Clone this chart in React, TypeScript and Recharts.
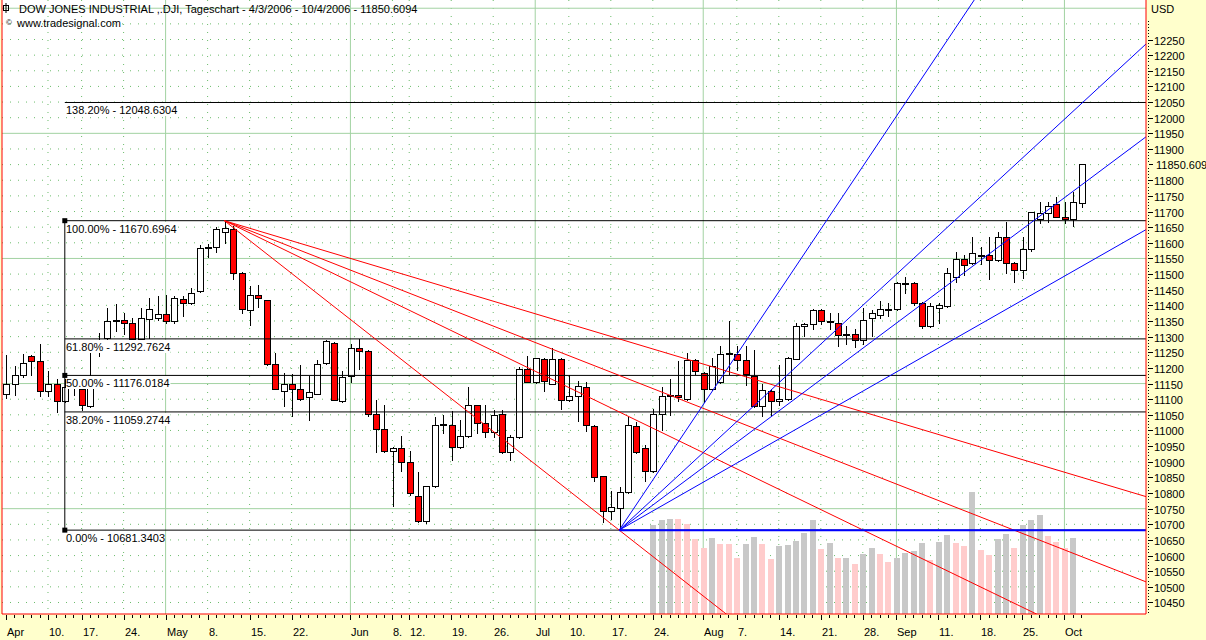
import React from "react";
import {
  ComposedChart,
  Bar,
  XAxis,
  YAxis,
  CartesianGrid,
  ReferenceLine,
  ReferenceDot,
} from "recharts";

const FONT = '"Liberation Sans", Arial, sans-serif';

// daily OHLC, Dow Jones Industrial, 3 Apr 2006 .. 4 Oct 2006 (index = trading day)
const opens = [
  11115, 11147, 11176, 11237, 11221, 11125, 11147, 11093, 11145, 11131,
  11077, 11259, 11297, 11349, 11352, 11342, 11294, 11355, 11361, 11371,
  11349, 11419, 11406, 11445, 11582, 11588, 11636, 11643, 11505, 11384,
  11432, 11416, 11211, 11125, 11147, 11131, 11106, 11118, 11217, 11281,
  11093, 11173, 11265, 11253, 11054, 11006, 10933, 10943, 10898, 10789,
  10712, 10821, 11019, 11016, 10946, 10981, 11080, 11023, 10994, 11054,
  10930, 10978, 11195, 11154, 11230, 11150, 11230, 11096, 11109, 11138,
  11013, 10853, 10744, 10751, 10802, 11013, 10943, 10869, 11054, 11109,
  11112, 11102, 11224, 11185, 11131, 11154, 11246, 11243, 11224, 11173,
  11077, 11125, 11093, 11102, 11230, 11333, 11339, 11384, 11349, 11342,
  11304, 11307, 11288, 11358, 11368, 11385, 11387, 11467, 11470, 11409,
  11333, 11393, 11397, 11492, 11547, 11534, 11560, 11560, 11544, 11617,
  11537, 11512, 11579, 11675, 11694, 11723, 11684, 11675, 11726,
];
const highs = [
  11240, 11205, 11243, 11240, 11275, 11189, 11163, 11163, 11175, 11150,
  11249, 11313, 11390, 11403, 11377, 11361, 11393, 11422, 11429, 11432,
  11429, 11429, 11454, 11592, 11595, 11649, 11670.6964, 11655, 11508, 11461,
  11464, 11418, 11249, 11185, 11179, 11208, 11173, 11224, 11288, 11283,
  11189, 11275, 11291, 11256, 11099, 11083, 10946, 10981, 10933, 10866,
  10821, 11042, 11051, 11061, 11035, 11138, 11083, 11080, 11067, 11067,
  10987, 11202, 11237, 11233, 11233, 11265, 11233, 11176, 11157, 11154,
  11016, 10856, 10805, 10818, 11042, 11026, 10955, 11070, 11138, 11163,
  11221, 11249, 11230, 11188, 11233, 11269, 11349, 11269, 11269, 11256,
  11147, 11131, 11208, 11236, 11345, 11345, 11387, 11387, 11374, 11374,
  11333, 11323, 11393, 11384, 11413, 11409, 11476, 11492, 11476, 11412,
  11406, 11406, 11521, 11572, 11560, 11617, 11585, 11617, 11633, 11665,
  11540, 11620, 11700, 11729, 11732, 11745, 11732, 11761, 11853,
];
const lows = [
  11105, 11112, 11170, 11176, 11109, 11109, 11058, 11090, 11112, 11067,
  11074, 11237, 11291, 11317, 11307, 11285, 11285, 11297, 11352, 11342,
  11345, 11365, 11403, 11442, 11556, 11572, 11598, 11483, 11377, 11336,
  11396, 11208, 11131, 11077, 11045, 11099, 11032, 11115, 11214, 11096,
  11090, 11154, 11195, 11045, 10930, 10930, 10760, 10872, 10793, 10706,
  10703, 10818, 10991, 10907, 10943, 10978, 10991, 10978, 10978, 10927,
  10904, 10975, 11154, 11151, 11125, 11147, 11070, 11093, 11029, 10997,
  10837, 10706, 10716, 10681.3403, 10799, 10927, 10840, 10866, 11000, 11051,
  11093, 11099, 11182, 11090, 11128, 11151, 11179, 11192, 11144, 11074,
  11045, 11048, 11080, 11099, 11227, 11301, 11323, 11339, 11323, 11269,
  11275, 11266, 11275, 11301, 11361, 11365, 11384, 11441, 11400, 11329,
  11330, 11345, 11394, 11476, 11496, 11531, 11531, 11483, 11541, 11505,
  11476, 11489, 11573, 11662, 11665, 11682, 11662, 11655, 11713,
];
const closes = [
  11150, 11176, 11217, 11221, 11125, 11147, 11093, 11138, 11160, 11083,
  11163, 11285, 11349, 11352, 11342, 11294, 11358, 11387, 11371, 11349,
  11422, 11406, 11441, 11582, 11588, 11643, 11646, 11505, 11387, 11432,
  11424, 11211, 11134, 11147, 11131, 11102, 11122, 11214, 11285, 11099,
  11170, 11265, 11253, 11054, 11006, 10933, 10943, 10898, 10799, 10712,
  10821, 11019, 11021, 10946, 10981, 11080, 11023, 10994, 11051, 10930,
  10978, 11195, 11154, 11233, 11157, 11230, 11096, 11109, 11141, 11016,
  10850, 10744, 10754, 10802, 11016, 10930, 10869, 11054, 11109, 11112,
  11106, 11224, 11189, 11131, 11205, 11246, 11249, 11224, 11179, 11077,
  11128, 11093, 11102, 11233, 11333, 11339, 11384, 11349, 11346, 11304,
  11310, 11288, 11352, 11374, 11387, 11387, 11470, 11473, 11409, 11333,
  11397, 11400, 11502, 11547, 11528, 11566, 11558, 11544, 11617, 11537,
  11512, 11579, 11697, 11694, 11719, 11684, 11675, 11732, 11850.6094,
];

// volume (only shown from 24 Jul onwards)
const VOL_START = 77;
const volumes = [
  178, 188, 190, 190, 180, 150, 132, 152, 140, 140,
  112, 140, 154, 140, 110, 136, 138, 146, 162, 188,
  130, 142, 112, 112, 100, 120, 132, 120, 104, 112,
  122, 126, 142, 108, 144, 158, 142, 136, 244, 128,
  118, 150, 160, 132, 178, 188, 198, 156, 144, 132, 152,
];
const volumeUp = [
  1, 1, 1, 0, 0, 0, 0, 1, 0, 0,
  0, 1, 1, 0, 0, 1, 1, 1, 1, 1,
  0, 1, 0, 1, 0, 1, 1, 0, 0, 1,
  1, 1, 1, 0, 1, 1, 0, 0, 1, 0,
  0, 1, 1, 0, 1, 1, 1, 0, 0, 0, 1,
];

const tickIdx = [0, 5, 9, 14, 19, 24, 29, 34, 41, 46, 48, 53, 58, 63, 67, 72, 77, 83, 87, 92, 97, 102, 106, 111, 116, 121, 126];
const tickText = ["Apr", "10.", "17.", "24.", "May", "8.", "15.", "22.", "Jun", "8.", "12.", "19.", "26.", "Jul", "10.", "17.", "24.", "Aug", "7.", "14.", "21.", "28.", "Sep", "11.", "18.", "25.", "Oct"];
const monthIdx = [19, 41, 63, 83, 106, 126];

const swingHighIdx = 26;
const swingHigh = 11670.6964;
const swingLowIdx = 73;
const swingLow = 10681.340345;
const fibStartIdx = 7;
const fibRatios = [1.382, 1, 0.618, 0.5, 0.382, 0];
const fibSquares = [1, 0.5, 0];
const redFanRatios = [0, 0.382, 0.5, 0.618];
const blueFanTarget = { i: 98, p: 11684 };
const blueFanRatios = [1, 0.618, 0.5, 0.382];
const lastPrice = 11850.6094;

const X0 = -0.476;
const X1 = 135.71;
const Y0 = 10413.2;
const Y1 = 12376.3;
const VOL_MAX = 1228;
const FAR = 260;

const rows = opens.map((o, i) => {
  const k = i - VOL_START;
  return {
    i,
    o,
    h: highs[i],
    l: lows[i],
    c: closes[i],
    range: [lows[i], highs[i]],
    vol: k >= 0 && k < volumes.length ? volumes[k] : null,
    vup: k >= 0 ? volumeUp[k] === 1 : false,
  };
});

const allIdx = rows.map((r) => r.i);
const yTicks: number[] = [];
for (let v = 10420; v <= 12310; v += 10) {
  if (v !== 11850) yTicks.push(v);
}
yTicks.push(lastPrice);

const solidH = [10750, 11150, 11550, 11950, 12350];
const dotH: number[] = [];
for (let v = 10450; v <= 12350; v += 50) if (!solidH.includes(v)) dotH.push(v);
const dotV = tickIdx.filter((t) => t !== 0 && !monthIdx.includes(t));

const levelOf = (r: number) => (1 - r) * swingLow + r * swingHigh;

const Candle = (props: any) => {
  const { x, y, width, height, payload } = props;
  if (!payload || x == null || y == null) return null;
  const { o, h, l, c } = payload;
  const top = Math.min(y, y + height);
  const span = Math.abs(height);
  const py = (v: number) => (h === l ? top : top + ((h - v) / (h - l)) * span);
  const cx = Math.round(x + width / 2) + 0.5;
  const yo = py(o);
  const yc = py(c);
  const bTop = Math.round(Math.min(yo, yc)) + 0.5;
  const bBot = Math.round(Math.max(yo, yc)) + 0.5;
  return (
    <g>
      <line x1={cx} x2={cx} y1={Math.round(py(h))} y2={Math.round(py(l)) + 1} stroke="#000" />
      {bBot - bTop < 1 ? (
        <line x1={cx - 3} x2={cx + 4} y1={bTop} y2={bTop} stroke="#000" />
      ) : (
        <rect x={cx - 3} y={bTop} width={6} height={bBot - bTop} fill={c >= o ? "#fff" : "#ff0000"} stroke="#000" />
      )}
    </g>
  );
};

const VolBar = (props: any) => {
  const { x, y, width, height, payload } = props;
  if (!payload || payload.vol == null || !height) return null;
  const left = Math.round(x + width / 2) - 3;
  const top = Math.round(y);
  return <rect x={left} y={top} width={6} height={Math.round(y + height) - top} fill={payload.vup ? "#c8c8c8" : "#ffcccc"} />;
};

const XTick = (props: any) => {
  const { x, y, payload } = props;
  const k = tickIdx.indexOf(payload.value);
  const cx = Math.round(x) + 0.5;
  return (
    <g>
      <line x1={cx} x2={cx} y1={y + 1} y2={k >= 0 ? y + 6 : y + 4} stroke="#000" />
      {k >= 0 && (
        <text x={Math.round(x) + 1} y={y + 22} fontSize={11} fontFamily={FONT} fill="#000">
          {tickText[k]}
        </text>
      )}
    </g>
  );
};

const YTick = (props: any) => {
  const { x, y, payload } = props;
  const v = payload.value;
  const yy = Math.round(y) + 0.5;
  if (v === lastPrice) {
    return (
      <g>
        <line x1={x + 3} x2={x + 7} y1={yy} y2={yy} stroke="#000" />
        <text x={x + 10} y={yy + 4} fontSize={11} fontFamily={FONT} fill="#000">
          {v.toFixed(4)}
        </text>
      </g>
    );
  }
  if (v % 50 === 0 && v <= 12250) {
    return (
      <g>
        <line x1={x + 2} x2={x + 7} y1={yy} y2={yy} stroke="#000" />
        <text x={x + 8} y={yy + 4} fontSize={11} fontFamily={FONT} fill="#000">
          {v}
        </text>
      </g>
    );
  }
  return <line x1={x + 2} x2={x + 3} y1={yy} y2={yy} stroke="#000" />;
};

const fibLabel = (text: string) => (p: any) => {
  const vb = p.viewBox;
  if (!vb) return null;
  const x = Math.round(vb.x) + 1;
  const y = Math.round(vb.y);
  return (
    <g>
      <rect x={x} y={y + 1} width={text.length * 5.5} height={13} fill="#fff" />
      <text x={x} y={y + 12} fontSize={11} fontFamily={FONT} fill="#000">
        {text}
      </text>
    </g>
  );
};

const Square = (p: any) => <rect x={p.cx - 2.5} y={p.cy - 2.5} width={5} height={5} fill="#000" />;

export default function App() {
  return (
    <div style={{ position: "absolute", left: 0, top: 0, width: 1206, height: 640, background: "#ffffcc", fontFamily: FONT }}>
      <ComposedChart width={1206} height={640} data={rows} margin={{ top: 0, right: 0, bottom: 0, left: 2 }}>
        <XAxis
          xAxisId="x"
          type="number"
          dataKey="i"
          domain={[X0, X1]}
          allowDataOverflow
          ticks={allIdx}
          interval={0}
          height={26}
          tickSize={0}
          tickMargin={0}
          tickLine={false}
          axisLine={{ stroke: "#ff0000" }}
          tick={<XTick />}
        />
        <XAxis xAxisId="xv" type="number" dataKey="i" domain={[X0, X1]} allowDataOverflow hide />
        <YAxis
          yAxisId="p"
          orientation="right"
          type="number"
          width={60}
          domain={[Y0, Y1]}
          allowDataOverflow
          ticks={yTicks}
          interval={0}
          tickSize={0}
          tickMargin={0}
          tickLine={false}
          axisLine={{ stroke: "#ff0000" }}
          tick={<YTick />}
        />
        <YAxis yAxisId="v" type="number" domain={[0, VOL_MAX]} allowDataOverflow hide />

        <CartesianGrid
          xAxisId="x"
          yAxisId="p"
          fill="#ffffff"
          stroke="#6cbc6c"
          strokeDasharray="1 7"
          horizontalValues={dotH}
          verticalValues={dotV}
        />
        <CartesianGrid xAxisId="x" yAxisId="p" stroke="#a2d2a2" horizontalValues={solidH} verticalValues={monthIdx} />

        <Bar xAxisId="xv" yAxisId="v" dataKey="vol" barSize={7} isAnimationActive={false} shape={VolBar} />
        <Bar xAxisId="x" yAxisId="p" dataKey="range" barSize={7} isAnimationActive={false} shape={Candle} />

        <ReferenceLine xAxisId="x" yAxisId="p" x={X0} stroke="#ff0000" ifOverflow="visible" />

        {fibRatios.map((r) => (
          <ReferenceLine
            key={"fib" + r}
            xAxisId="x"
            yAxisId="p"
            segment={[
              { x: fibStartIdx, y: levelOf(r) },
              { x: X1, y: levelOf(r) },
            ]}
            stroke="#000"
            ifOverflow="visible"
            label={fibLabel(`${(r * 100).toFixed(2)}% - ${levelOf(r).toFixed(4)}`)}
          />
        ))}
        <ReferenceLine
          xAxisId="x"
          yAxisId="p"
          segment={[
            { x: fibStartIdx, y: swingHigh },
            { x: fibStartIdx, y: swingLow },
          ]}
          stroke="#000"
          ifOverflow="visible"
        />

        {redFanRatios.map((r) => {
          const lv = levelOf(r);
          const slope = (lv - swingHigh) / (swingLowIdx - swingHighIdx);
          return (
            <ReferenceLine
              key={"red" + r}
              xAxisId="x"
              yAxisId="p"
              segment={[
                { x: swingHighIdx, y: swingHigh },
                { x: FAR, y: swingHigh + slope * (FAR - swingHighIdx) },
              ]}
              stroke="#ff0000"
              ifOverflow="hidden"
            />
          );
        })}

        {blueFanRatios.map((r) => {
          const slope = (r * (blueFanTarget.p - swingLow)) / (blueFanTarget.i - swingLowIdx);
          return (
            <ReferenceLine
              key={"blue" + r}
              xAxisId="x"
              yAxisId="p"
              segment={[
                { x: swingLowIdx, y: swingLow },
                { x: FAR, y: swingLow + slope * (FAR - swingLowIdx) },
              ]}
              stroke="#0000ff"
              ifOverflow="hidden"
            />
          );
        })}
        <ReferenceLine
          xAxisId="x"
          yAxisId="p"
          segment={[
            { x: swingLowIdx, y: swingLow },
            { x: X1, y: swingLow },
          ]}
          stroke="#0000ff"
          strokeWidth={2}
          ifOverflow="hidden"
        />

        {fibSquares.map((r) => (
          <ReferenceDot key={"sq" + r} xAxisId="x" yAxisId="p" x={fibStartIdx} y={levelOf(r)} r={3} shape={Square} ifOverflow="visible" />
        ))}
      </ComposedChart>

      <svg width={1206} height={640} style={{ position: "absolute", left: 0, top: 0, pointerEvents: "none" }}>
        <rect x={3.5} y={5.5} width={5} height={5} fill="none" stroke="#000" />
        <line x1={6} x2={6} y1={3} y2={13} stroke="#000" />
        <text x={19} y={13} fontSize={11} fontFamily={FONT} fill="#000">
          DOW JONES INDUSTRIAL ,.DJI, Tageschart - 4/3/2006 - 10/4/2006 - 11850.6094
        </text>
        <text x={6} y={25} fontSize={8} fontFamily={FONT} fill="#000">
          ©
        </text>
        <text x={17} y={27} fontSize={11} fontFamily={FONT} fill="#000">
          www.tradesignal.com
        </text>
        <text x={1151} y={13} fontSize={11} fontFamily={FONT} fill="#000">
          USD
        </text>
      </svg>
    </div>
  );
}
